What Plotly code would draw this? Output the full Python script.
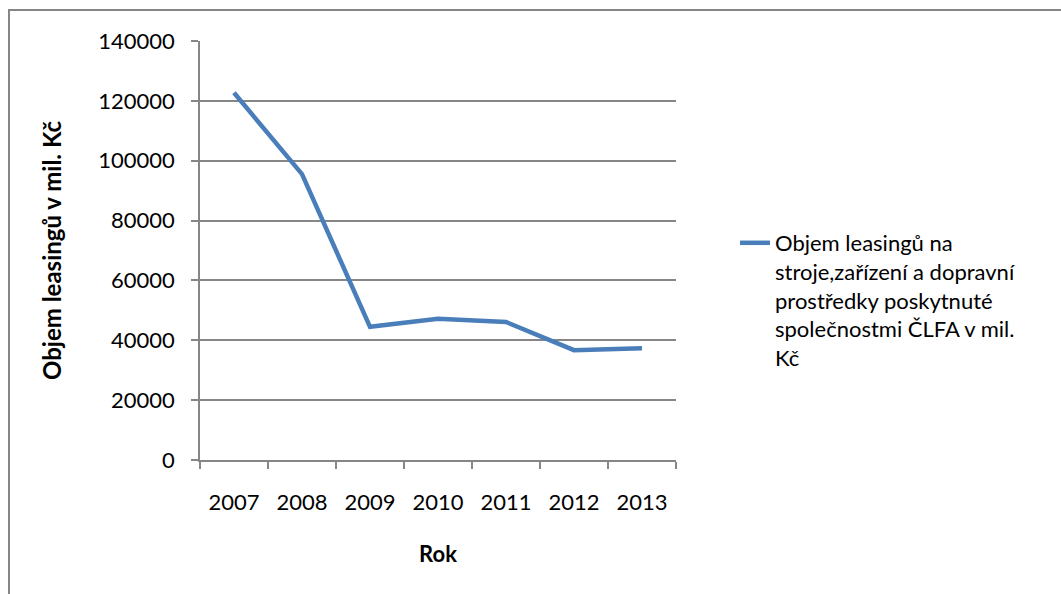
import plotly.graph_objects as go

# Leasing volume by year (mil. Kč)
years = ["2007", "2008", "2009", "2010", "2011", "2012", "2013"]
volume = [122700, 95500, 44500, 47200, 46100, 36700, 37300]

series_name = ("Objem leasingů na<br>stroje,zařízení a dopravní<br>prostředky poskytnuté"
               "<br>společnostmi ČLFA v mil.<br>Kč")

GRID = "#868686"
FONT = "Lato"

fig = go.Figure()
fig.add_trace(go.Scatter(
    x=years, y=volume, mode="lines", name=series_name,
    line=dict(color="#4A7EBB", width=4.5),
    showlegend=True,
))

L, R, T, B = 200, 385, 41, 134
W, H = 1061, 594
pw, ph = W - L - R, H - T - B

def px(xp):
    return (xp - L) / pw

def py(yp):
    return (H - B - yp) / ph

fig.update_layout(
    width=W, height=H,
    margin=dict(l=L, r=R, t=T, b=B, autoexpand=False),
    paper_bgcolor="white", plot_bgcolor="white",
    font=dict(family=FONT, size=22, color="black"),
    xaxis=dict(
        type="category", range=[-0.5, 6.5],
        showline=True, linecolor=GRID, linewidth=1.5,
        ticks="outside", tickson="boundaries", ticklen=7, tickcolor=GRID, tickwidth=1.5,
        showgrid=False, ticklabelstandoff=22,
        title=dict(text="<b>Rok</b>", standoff=32, font=dict(size=22)),
    ),
    yaxis=dict(
        range=[0, 140000], dtick=20000, tickformat="d",
        showline=True, linecolor=GRID, linewidth=1.5,
        ticks="outside", ticklen=7, tickcolor=GRID, tickwidth=1.5,
        showgrid=True, gridcolor=GRID, gridwidth=1.5, zeroline=False,
        ticklabelstandoff=12,
        title=dict(text="<b>Objem leasingů v mil. Kč</b>", standoff=30, font=dict(size=24)),
    ),
    legend=dict(
        x=px(735), y=py(222), xanchor="left", yanchor="top",
        valign="top", bgcolor="rgba(0,0,0,0)", borderwidth=0,
        font=dict(size=22), itemwidth=30, tracegroupgap=0,
    ),
    shapes=[dict(
        type="rect", xref="paper", yref="paper",
        x0=px(9), x1=px(1080), y0=py(610), y1=py(10),
        line=dict(color=GRID, width=2), fillcolor="rgba(0,0,0,0)", layer="below",
    )],
)

fig.write_html("out.html")
